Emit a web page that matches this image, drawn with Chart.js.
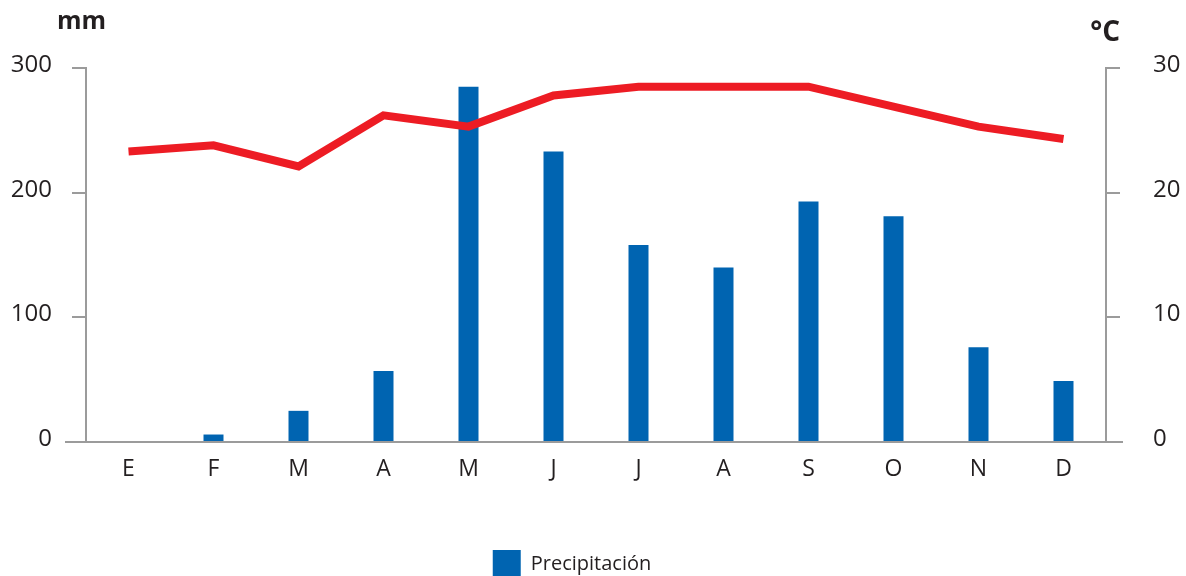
<!DOCTYPE html>
<html>
<head>
<meta charset="utf-8">
<script src="https://cdn.jsdelivr.net/npm/chart.js@4"></script>
<style>
html, body { margin: 0; padding: 0; background: #fff; overflow: hidden; }
</style>
</head>
<body>
<canvas id="climograma" width="1186" height="588"></canvas>
<script>
// climograma: precipitación (barras) y temperatura (línea)
const months = ['E', 'F', 'M', 'A', 'M', 'J', 'J', 'A', 'S', 'O', 'N', 'D'];
const precipitation = [0, 6, 25, 57, 285, 233, 158, 140, 193, 181, 76, 49];
const temperature = [23.3, 23.8, 22.1, 26.2, 25.3, 27.8, 28.5, 28.5, 28.5, 26.9, 25.3, 24.3];
const mmTicks = [0, 100, 200, 300];
const tempTicks = [0, 10, 20, 30];

const axisColor = '#9b9b9b';
const textColor = '#231f20';
const fontFamily = '"Open Sans", "DejaVu Sans", sans-serif';

// baseline that runs past both axes, plus the unit labels
const extras = {
    id: 'extras',
    afterLayout(chart) {
        // legend sits a bit left of centre in the original
        chart.legend.right -= 42;
    },
    beforeDatasetsDraw(chart) {
        const { ctx, chartArea: a } = chart;
        ctx.save();
        ctx.strokeStyle = axisColor;
        ctx.lineWidth = 2;
        ctx.beginPath();
        ctx.moveTo(a.left - 21, a.bottom);
        ctx.lineTo(a.right + 17, a.bottom);
        ctx.stroke();
        ctx.restore();
    },
    afterDraw(chart) {
        const ctx = chart.ctx;
        ctx.save();
        ctx.fillStyle = textColor;
        ctx.textBaseline = 'alphabetic';
        ctx.textAlign = 'left';
        ctx.font = 'bold 25px ' + fontFamily;
        ctx.fillText('mm', 57, 29);
        ctx.textAlign = 'right';
        ctx.font = 'bold 28px ' + fontFamily;
        ctx.fillText('°C', 1120, 41);
        ctx.restore();
    }
};

const sideAxis = (position, ticks, width, pad) => ({
    position: position,
    min: ticks[0],
    max: ticks[ticks.length - 1],
    afterBuildTicks: scale => { scale.ticks = ticks.map(v => ({ value: v })); },
    afterFit: scale => { scale.width = width; },
    border: { display: true, color: axisColor, width: 2 },
    grid: {
        drawOnChartArea: false,
        drawTicks: true,
        tickLength: 14,
        color: axisColor,
        lineWidth: 2
    },
    ticks: {
        padding: pad,
        color: textColor,
        labelOffset: -3,
        font: { family: fontFamily, size: 24 }
    }
});

const ctx = document.getElementById('climograma').getContext('2d');
new Chart(ctx, {
    data: {
        labels: months,
        datasets: [{
            type: 'bar',
            label: 'Precipitación',
            data: precipitation,
            backgroundColor: '#0064b1',
            barThickness: 20,
            inflateAmount: 0,
            yAxisID: 'y',
            order: 1
        }, {
            type: 'line',
            label: 'Temperatura',
            data: temperature,
            borderColor: '#ed1c24',
            borderWidth: 8,
            borderJoinStyle: 'miter',
            pointRadius: 0,
            fill: false,
            tension: 0,
            yAxisID: 'y1',
            order: 0
        }]
    },
    options: {
        responsive: false,
        animation: false,
        layout: { padding: { top: 68, left: 0, right: 0, bottom: 0 } },
        scales: {
            x: {
                afterFit: scale => { scale.height = 98; },
                border: { display: false },
                grid: { display: false },
                ticks: {
                    padding: 6,
                    color: textColor,
                    font: { family: fontFamily, size: 23 }
                }
            },
            y: sideAxis('left', mmTicks, 86, 20),
            y1: sideAxis('right', tempTicks, 80, 33)
        },
        plugins: {
            tooltip: { enabled: false },
            legend: {
                position: 'bottom',
                labels: {
                    boxWidth: 28,
                    boxHeight: 28,
                    padding: 10,
                    color: textColor,
                    font: { family: fontFamily, size: 20 },
                    filter: item => item.datasetIndex === 0
                }
            }
        }
    },
    plugins: [extras]
});
</script>
</body>
</html>
